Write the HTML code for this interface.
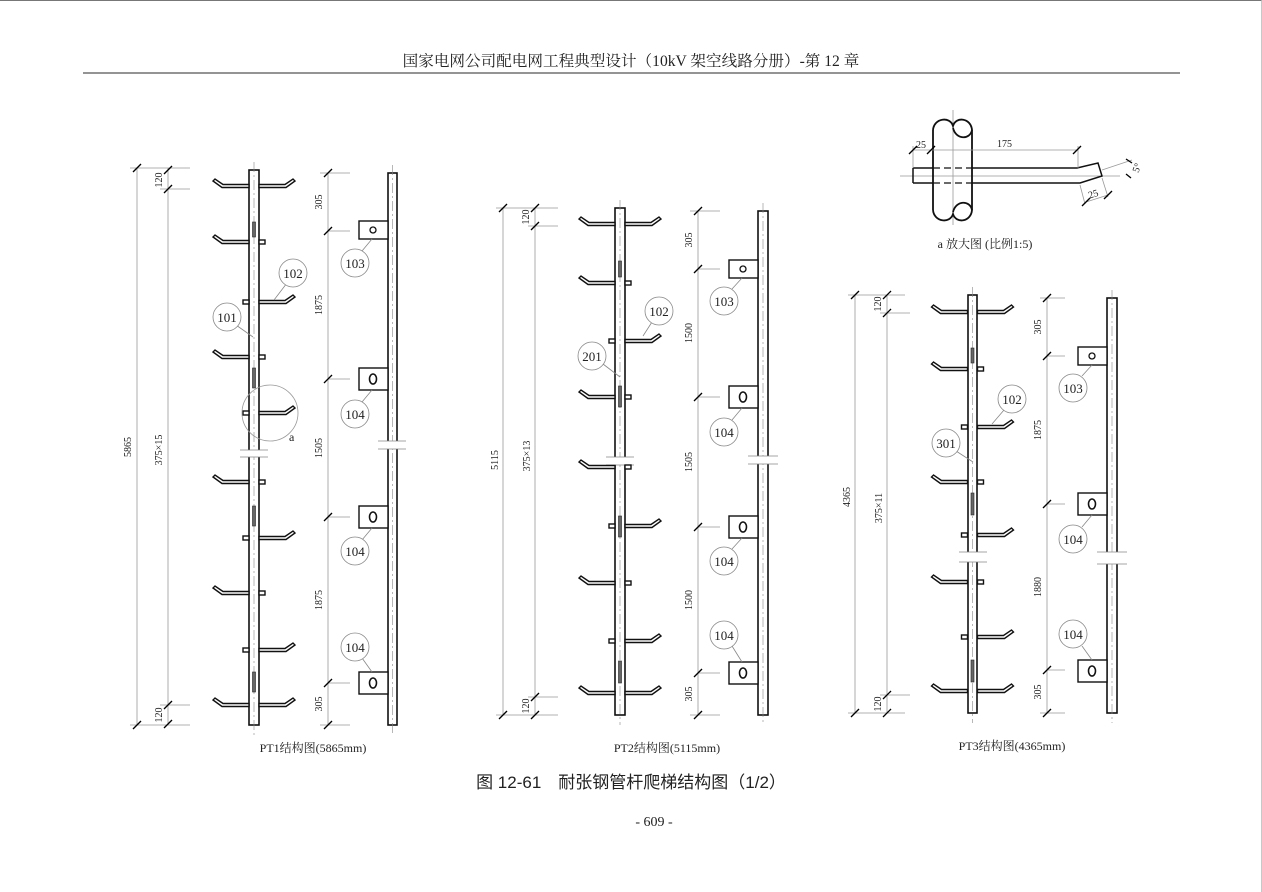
<!DOCTYPE html>
<html><head><meta charset="utf-8"><style>
body{margin:0;background:#fff}
svg{display:block}
text{font-family:"Liberation Serif","Noto Serif CJK SC",serif;fill:#222}
.d{stroke:#999;stroke-width:0.8;fill:none}
.t{stroke:#000;stroke-width:1.3}
.p{fill:#fff;stroke:#111;stroke-width:1.6}
.c{stroke:#888;stroke-width:0.6;stroke-dasharray:10 3 2 3;fill:none}
.lb{fill:#fff;stroke:#888;stroke-width:0.8}
.ld{stroke:#888;stroke-width:0.8}
.r{fill:#fff;stroke:#111;stroke-width:1.4;stroke-linejoin:miter}
.s{fill:#666;stroke:#222;stroke-width:0.6}
.sm{font-size:10px}
.lt{font-size:13px}
</style></head><body>
<svg width="1262" height="892" viewBox="0 0 1262 892" xmlns="http://www.w3.org/2000/svg">
<defs>
<polygon id="rl" class="r" points="-5,-1.5 -31,-1.5 -39,-7 -41,-5 -32,1.5 -5,1.5"/>
<polygon id="rr" class="r" points="5,-1.5 31,-1.5 39,-7 41,-5 32,1.5 5,1.5"/>
<rect id="sr" class="r" x="5" y="-2" width="6" height="4"/>
<rect id="sl" class="r" x="-11" y="-2" width="6" height="4"/>
<g id="b103"><rect class="r" x="-29" y="-9" width="29" height="18"/><circle cx="-15" cy="0" r="3" fill="none" stroke="#111" stroke-width="1.3"/></g>
<g id="b104"><rect class="r" x="-29" y="-11" width="29" height="22"/><ellipse cx="-15" cy="0" rx="3.5" ry="5" fill="none" stroke="#111" stroke-width="1.6"/></g>
<line id="tk" class="t" x1="-4" y1="4" x2="4" y2="-4"/>
</defs>
<line x1="0" y1="0.5" x2="1262" y2="0.5" stroke="#777" stroke-width="1"/>
<line x1="1261.5" y1="0" x2="1261.5" y2="892" stroke="#bbb" stroke-width="0.8"/>
<text x="631" y="66" text-anchor="middle" font-size="15.6">国家电网公司配电网工程典型设计（10kV 架空线路分册）-第 12 章</text>
<line x1="83" y1="73" x2="1180" y2="73" stroke="#555" stroke-width="1.3"/>

<!-- ===== PT1 ===== -->
<g>
<line class="d" x1="137" y1="168" x2="137" y2="725"/><line class="d" x1="130" y1="168" x2="190" y2="168"/><line class="d" x1="130" y1="725" x2="190" y2="725"/>
<use href="#tk" x="137" y="168"/><use href="#tk" x="137" y="725"/>
<line class="d" x1="168" y1="168" x2="168" y2="725"/><line class="d" x1="160" y1="189" x2="190" y2="189"/><line class="d" x1="160" y1="705" x2="190" y2="705"/>
<use href="#tk" x="168" y="170"/><use href="#tk" x="168" y="189"/><use href="#tk" x="168" y="705"/><use href="#tk" x="168" y="724"/>
<text class="sm" transform="translate(131,447) rotate(-90)" text-anchor="middle">5865</text>
<text class="sm" transform="translate(162,450) rotate(-90)" text-anchor="middle">375×15</text>
<text class="sm" transform="translate(162,180) rotate(-90)" text-anchor="middle">120</text>
<text class="sm" transform="translate(162,715) rotate(-90)" text-anchor="middle">120</text>
<rect class="p" x="249" y="170" width="10" height="555"/>
<line class="c" x1="254" y1="162" x2="254" y2="735"/>
<rect x="240" y="450" width="30" height="7" fill="#fff"/>
<line class="ld" x1="240" y1="450" x2="268" y2="450"/><line class="ld" x1="240" y1="457" x2="268" y2="457"/>
<g transform="translate(254,0)">
<use href="#rl" y="186"/><use href="#rr" y="186"/>
<use href="#rl" y="242"/><use href="#sr" y="242"/>
<use href="#rr" y="302"/><use href="#sl" y="302"/>
<use href="#rl" y="357"/><use href="#sr" y="357"/>
<use href="#rr" y="413"/><use href="#sl" y="413"/>
<use href="#rl" y="482"/><use href="#sr" y="482"/>
<use href="#rr" y="538"/><use href="#sl" y="538"/>
<use href="#rl" y="593"/><use href="#sr" y="593"/>
<use href="#rr" y="650"/><use href="#sl" y="650"/>
<use href="#rl" y="705"/><use href="#rr" y="705"/>
<rect class="s" x="-1.5" y="222" width="3" height="15"/><rect class="s" x="-1.5" y="368" width="3" height="20"/>
<rect class="s" x="-1.5" y="506" width="3" height="20"/><rect class="s" x="-1.5" y="672" width="3" height="20"/>
</g>
<circle cx="270" cy="413" r="28" fill="none" stroke="#999" stroke-width="0.8"/>
<text x="289" y="441" font-size="12">a</text>
<line class="ld" x1="274" y1="300" x2="287" y2="283"/><circle class="lb" cx="293" cy="273" r="14"/><text class="lt" x="293" y="278" text-anchor="middle">102</text>
<line class="ld" x1="253" y1="337" x2="236" y2="325"/><circle class="lb" cx="227" cy="317" r="14"/><text class="lt" x="227" y="322" text-anchor="middle">101</text>
<line class="d" x1="328" y1="173" x2="328" y2="725"/>
<line class="d" x1="320" y1="173" x2="350" y2="173"/><line class="d" x1="320" y1="725" x2="350" y2="725"/>
<line class="d" x1="328" y1="231" x2="350" y2="231"/><line class="d" x1="328" y1="379" x2="350" y2="379"/><line class="d" x1="328" y1="517" x2="350" y2="517"/><line class="d" x1="328" y1="683" x2="350" y2="683"/>
<use href="#tk" x="328" y="173"/><use href="#tk" x="328" y="231"/><use href="#tk" x="328" y="379"/><use href="#tk" x="328" y="517"/><use href="#tk" x="328" y="683"/><use href="#tk" x="328" y="725"/>
<text class="sm" transform="translate(322,202) rotate(-90)" text-anchor="middle">305</text>
<text class="sm" transform="translate(322,305) rotate(-90)" text-anchor="middle">1875</text>
<text class="sm" transform="translate(322,448) rotate(-90)" text-anchor="middle">1505</text>
<text class="sm" transform="translate(322,600) rotate(-90)" text-anchor="middle">1875</text>
<text class="sm" transform="translate(322,704) rotate(-90)" text-anchor="middle">305</text>
<rect class="p" x="388" y="173" width="9" height="552"/>
<line class="c" x1="392.5" y1="165" x2="392.5" y2="735"/>
<rect x="380" y="441" width="26" height="8" fill="#fff"/>
<line class="ld" x1="378" y1="441" x2="406" y2="441"/><line class="ld" x1="378" y1="449" x2="406" y2="449"/>
<use href="#b103" x="388" y="230"/><use href="#b104" x="388" y="379"/><use href="#b104" x="388" y="517"/><use href="#b104" x="388" y="683"/>
<line class="ld" x1="372" y1="239" x2="362" y2="251"/><circle class="lb" cx="355" cy="263" r="14"/><text class="lt" x="355" y="268" text-anchor="middle">103</text>
<line class="ld" x1="372" y1="390" x2="362" y2="402"/><circle class="lb" cx="355" cy="414" r="14"/><text class="lt" x="355" y="419" text-anchor="middle">104</text>
<line class="ld" x1="372" y1="528" x2="362" y2="540"/><circle class="lb" cx="355" cy="551" r="14"/><text class="lt" x="355" y="556" text-anchor="middle">104</text>
<line class="ld" x1="372" y1="672" x2="362" y2="658"/><circle class="lb" cx="355" cy="647" r="14"/><text class="lt" x="355" y="652" text-anchor="middle">104</text>
<text x="313" y="752" text-anchor="middle" font-size="12">PT1结构图(5865mm)</text>
</g>

<!-- ===== PT2 ===== -->
<g>
<line class="d" x1="503" y1="208" x2="503" y2="715"/><line class="d" x1="496" y1="208" x2="558" y2="208"/><line class="d" x1="496" y1="715" x2="558" y2="715"/>
<use href="#tk" x="503" y="208"/><use href="#tk" x="503" y="715"/>
<line class="d" x1="535" y1="208" x2="535" y2="715"/><line class="d" x1="528" y1="226" x2="558" y2="226"/><line class="d" x1="528" y1="697" x2="558" y2="697"/>
<use href="#tk" x="535" y="208"/><use href="#tk" x="535" y="226"/><use href="#tk" x="535" y="697"/><use href="#tk" x="535" y="715"/>
<text class="sm" transform="translate(498,460) rotate(-90)" text-anchor="middle">5115</text>
<text class="sm" transform="translate(530,456) rotate(-90)" text-anchor="middle">375×13</text>
<text class="sm" transform="translate(529,217) rotate(-90)" text-anchor="middle">120</text>
<text class="sm" transform="translate(529,706) rotate(-90)" text-anchor="middle">120</text>
<rect class="p" x="615" y="208" width="10" height="507"/>
<line class="c" x1="620" y1="200" x2="620" y2="725"/>
<rect x="606" y="457" width="30" height="8" fill="#fff"/>
<line class="ld" x1="606" y1="457" x2="634" y2="457"/><line class="ld" x1="606" y1="465" x2="634" y2="465"/>
<g transform="translate(620,0)">
<use href="#rl" y="224"/><use href="#rr" y="224"/>
<use href="#rl" y="283"/><use href="#sr" y="283"/>
<use href="#rr" y="341"/><use href="#sl" y="341"/>
<use href="#rl" y="397"/><use href="#sr" y="397"/>
<use href="#rl" y="467"/><use href="#sr" y="467"/>
<use href="#rr" y="526"/><use href="#sl" y="526"/>
<use href="#rl" y="583"/><use href="#sr" y="583"/>
<use href="#rr" y="641"/><use href="#sl" y="641"/>
<use href="#rl" y="693"/><use href="#rr" y="693"/>
<rect class="s" x="-1.5" y="261" width="3" height="16"/><rect class="s" x="-1.5" y="386" width="3" height="21"/>
<rect class="s" x="-1.5" y="516" width="3" height="21"/><rect class="s" x="-1.5" y="661" width="3" height="22"/>
</g>
<line class="ld" x1="643" y1="336" x2="652" y2="322"/><circle class="lb" cx="659" cy="311" r="14"/><text class="lt" x="659" y="316" text-anchor="middle">102</text>
<line class="ld" x1="620" y1="377" x2="603" y2="364"/><circle class="lb" cx="592" cy="356" r="14"/><text class="lt" x="592" y="361" text-anchor="middle">201</text>
<line class="d" x1="698" y1="211" x2="698" y2="715"/>
<line class="d" x1="690" y1="211" x2="720" y2="211"/><line class="d" x1="690" y1="715" x2="720" y2="715"/>
<line class="d" x1="698" y1="269" x2="720" y2="269"/><line class="d" x1="698" y1="397" x2="720" y2="397"/><line class="d" x1="698" y1="527" x2="720" y2="527"/><line class="d" x1="698" y1="673" x2="720" y2="673"/>
<use href="#tk" x="698" y="211"/><use href="#tk" x="698" y="269"/><use href="#tk" x="698" y="397"/><use href="#tk" x="698" y="527"/><use href="#tk" x="698" y="673"/><use href="#tk" x="698" y="715"/>
<text class="sm" transform="translate(692,240) rotate(-90)" text-anchor="middle">305</text>
<text class="sm" transform="translate(692,333) rotate(-90)" text-anchor="middle">1500</text>
<text class="sm" transform="translate(692,462) rotate(-90)" text-anchor="middle">1505</text>
<text class="sm" transform="translate(692,600) rotate(-90)" text-anchor="middle">1500</text>
<text class="sm" transform="translate(692,694) rotate(-90)" text-anchor="middle">305</text>
<rect class="p" x="758" y="211" width="10" height="504"/>
<line class="c" x1="763" y1="203" x2="763" y2="725"/>
<rect x="750" y="456" width="26" height="8" fill="#fff"/>
<line class="ld" x1="748" y1="456" x2="778" y2="456"/><line class="ld" x1="748" y1="464" x2="778" y2="464"/>
<use href="#b103" x="758" y="269"/><use href="#b104" x="758" y="397"/><use href="#b104" x="758" y="527"/><use href="#b104" x="758" y="673"/>
<line class="ld" x1="742" y1="278" x2="732" y2="289"/><circle class="lb" cx="724" cy="301" r="14"/><text class="lt" x="724" y="306" text-anchor="middle">103</text>
<line class="ld" x1="742" y1="408" x2="732" y2="420"/><circle class="lb" cx="724" cy="432" r="14"/><text class="lt" x="724" y="437" text-anchor="middle">104</text>
<line class="ld" x1="742" y1="538" x2="732" y2="549"/><circle class="lb" cx="724" cy="561" r="14"/><text class="lt" x="724" y="566" text-anchor="middle">104</text>
<line class="ld" x1="742" y1="662" x2="732" y2="646"/><circle class="lb" cx="724" cy="635" r="14"/><text class="lt" x="724" y="640" text-anchor="middle">104</text>
<text x="667" y="752" text-anchor="middle" font-size="12">PT2结构图(5115mm)</text>
</g>

<!-- ===== PT3 ===== -->
<g>
<line class="d" x1="855" y1="295" x2="855" y2="713"/><line class="d" x1="848" y1="295" x2="905" y2="295"/><line class="d" x1="848" y1="713" x2="905" y2="713"/>
<use href="#tk" x="855" y="295"/><use href="#tk" x="855" y="713"/>
<line class="d" x1="887" y1="295" x2="887" y2="713"/><line class="d" x1="880" y1="313" x2="910" y2="313"/><line class="d" x1="880" y1="695" x2="910" y2="695"/>
<use href="#tk" x="887" y="295"/><use href="#tk" x="887" y="313"/><use href="#tk" x="887" y="695"/><use href="#tk" x="887" y="713"/>
<text class="sm" transform="translate(850,497) rotate(-90)" text-anchor="middle">4365</text>
<text class="sm" transform="translate(882,508) rotate(-90)" text-anchor="middle">375×11</text>
<text class="sm" transform="translate(881,304) rotate(-90)" text-anchor="middle">120</text>
<text class="sm" transform="translate(881,704) rotate(-90)" text-anchor="middle">120</text>
<rect class="p" x="968" y="295" width="9" height="418"/>
<line class="c" x1="972.5" y1="287" x2="972.5" y2="723"/>
<rect x="959" y="552" width="28" height="10" fill="#fff"/>
<line class="ld" x1="959" y1="552" x2="987" y2="552"/><line class="ld" x1="959" y1="562" x2="987" y2="562"/>
<g transform="translate(972.5,0)">
<use href="#rl" y="312"/><use href="#rr" y="312"/>
<use href="#rl" y="369"/><use href="#sr" y="369"/>
<use href="#rr" y="427"/><use href="#sl" y="427"/>
<use href="#rl" y="482"/><use href="#sr" y="482"/>
<use href="#rr" y="535"/><use href="#sl" y="535"/>
<use href="#rl" y="582"/><use href="#sr" y="582"/>
<use href="#rr" y="637"/><use href="#sl" y="637"/>
<use href="#rl" y="691"/><use href="#rr" y="691"/>
<rect class="s" x="-1.5" y="348" width="3" height="15"/><rect class="s" x="-1.5" y="493" width="3" height="22"/><rect class="s" x="-1.5" y="660" width="3" height="22"/>
</g>
<line class="ld" x1="992" y1="424" x2="1004" y2="410"/><circle class="lb" cx="1012" cy="399" r="14"/><text class="lt" x="1012" y="404" text-anchor="middle">102</text>
<line class="ld" x1="973" y1="462" x2="956" y2="451"/><circle class="lb" cx="946" cy="443" r="14"/><text class="lt" x="946" y="448" text-anchor="middle">301</text>
<line class="d" x1="1047" y1="298" x2="1047" y2="713"/>
<line class="d" x1="1040" y1="298" x2="1065" y2="298"/><line class="d" x1="1040" y1="713" x2="1065" y2="713"/>
<line class="d" x1="1047" y1="356" x2="1065" y2="356"/><line class="d" x1="1047" y1="504" x2="1065" y2="504"/><line class="d" x1="1047" y1="670" x2="1065" y2="670"/>
<use href="#tk" x="1047" y="298"/><use href="#tk" x="1047" y="356"/><use href="#tk" x="1047" y="504"/><use href="#tk" x="1047" y="670"/><use href="#tk" x="1047" y="713"/>
<text class="sm" transform="translate(1041,327) rotate(-90)" text-anchor="middle">305</text>
<text class="sm" transform="translate(1041,430) rotate(-90)" text-anchor="middle">1875</text>
<text class="sm" transform="translate(1041,587) rotate(-90)" text-anchor="middle">1880</text>
<text class="sm" transform="translate(1041,692) rotate(-90)" text-anchor="middle">305</text>
<rect class="p" x="1107" y="298" width="10" height="415"/>
<line class="c" x1="1112" y1="290" x2="1112" y2="723"/>
<rect x="1099" y="552" width="26" height="12" fill="#fff"/>
<line class="ld" x1="1097" y1="552" x2="1127" y2="552"/><line class="ld" x1="1097" y1="564" x2="1127" y2="564"/>
<use href="#b103" x="1107" y="356"/><use href="#b104" x="1107" y="504"/><use href="#b104" x="1107" y="671"/>
<line class="ld" x1="1092" y1="365" x2="1082" y2="376"/><circle class="lb" cx="1073" cy="388" r="14"/><text class="lt" x="1073" y="393" text-anchor="middle">103</text>
<line class="ld" x1="1092" y1="515" x2="1082" y2="527"/><circle class="lb" cx="1073" cy="539" r="14"/><text class="lt" x="1073" y="544" text-anchor="middle">104</text>
<line class="ld" x1="1092" y1="660" x2="1082" y2="646"/><circle class="lb" cx="1073" cy="634" r="14"/><text class="lt" x="1073" y="639" text-anchor="middle">104</text>
<text x="1012" y="750" text-anchor="middle" font-size="12">PT3结构图(4365mm)</text>
</g>

<!-- ===== detail a ===== -->
<g>
<line class="d" x1="900" y1="176" x2="1120" y2="176"/>
<line class="d" x1="953" y1="110" x2="953" y2="225"/>
<path d="M933,130 L933,210 M972,130 L972,210" stroke="#111" stroke-width="1.8" fill="none"/>
<path d="M933,130 C934,118 950,116 953,126 C956,116 971,118 972,130 C970,140 956,140 953,128" stroke="#111" stroke-width="1.8" fill="none"/>
<path d="M933,210 C934,222 950,224 953,214 C956,224 971,222 972,210 C970,200 956,200 953,212" stroke="#111" stroke-width="1.8" fill="none"/>
<path d="M913,168 L933,168 M972,168 L1077,168 L1098,163 L1102,176 L1080,183 L972,183 M933,183 L913,183 Z" stroke="#111" stroke-width="1.5" fill="none"/>
<line x1="913" y1="168" x2="913" y2="183" stroke="#111" stroke-width="1.5"/>
<path d="M933,168 L972,168 M933,183 L972,183" stroke="#111" stroke-width="1.2" stroke-dasharray="7 4" fill="none"/>
<line class="d" x1="913" y1="146" x2="913" y2="168"/><line class="d" x1="913" y1="150" x2="1078" y2="150"/><line class="d" x1="1078" y1="146" x2="1078" y2="168"/>
<use href="#tk" x="913" y="150"/><use href="#tk" x="931" y="150"/><use href="#tk" x="1077" y="150"/>
<text class="sm" x="916" y="148">25</text><text class="sm" x="997" y="147">175</text>
<line class="d" x1="1080" y1="185" x2="1085" y2="204"/><line class="d" x1="1102" y1="178" x2="1108" y2="197"/><line class="d" x1="1086" y1="202" x2="1108" y2="195"/>
<use href="#tk" x="1086" y="202"/><use href="#tk" x="1108" y="195"/>
<text class="sm" x="1088" y="197" transform="rotate(-18 1094 193)">25</text>
<line class="d" x1="1102" y1="170" x2="1132" y2="160"/>
<line class="t" x1="1126" y1="159" x2="1132" y2="163"/><line class="t" x1="1126" y1="174" x2="1131" y2="178"/>
<text class="sm" x="1132" y="172" transform="rotate(-70 1136 168)">5°</text>
<text x="985" y="248" text-anchor="middle" font-size="12">a 放大图 (比例1:5)</text>
</g>

<text x="631" y="788" text-anchor="middle" font-size="17" style="font-family:'Liberation Sans','Noto Sans CJK SC',sans-serif" fill="#111">图 12-61　耐张钢管杆爬梯结构图（1/2）</text>
<text x="654" y="826" text-anchor="middle" font-size="14">- 609 -</text>
</svg>
</body></html>
